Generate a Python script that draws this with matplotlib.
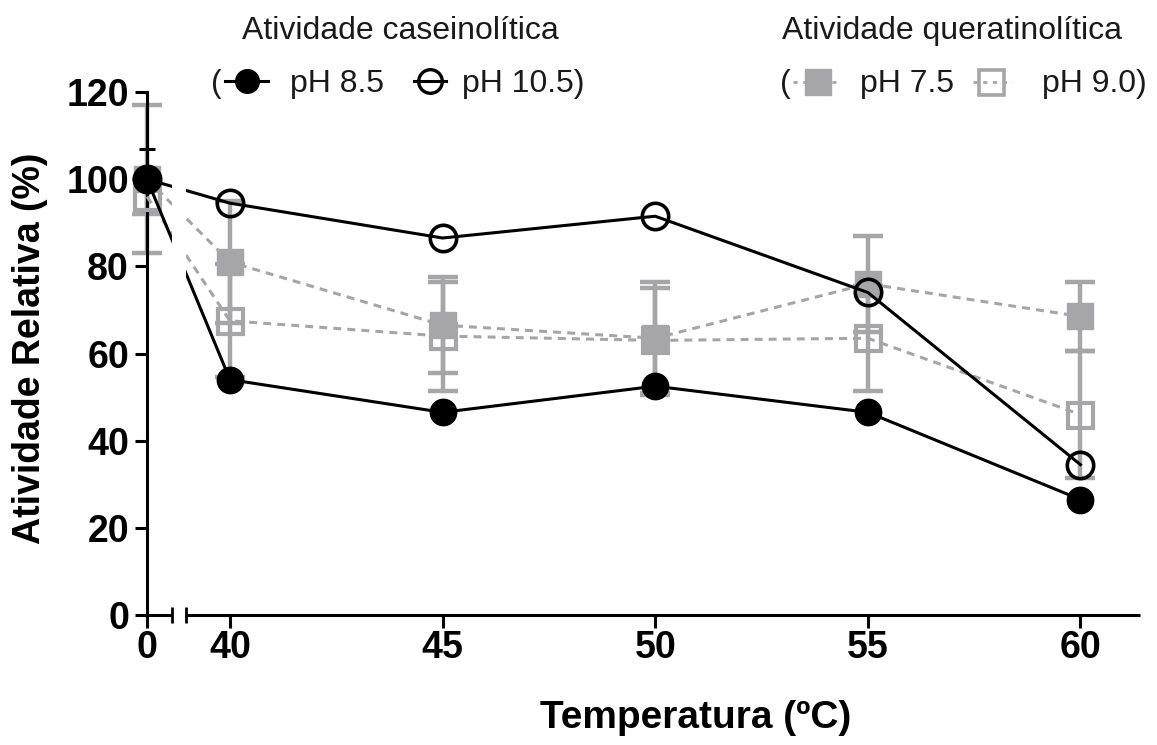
import numpy as np
import matplotlib.pyplot as plt
from matplotlib.lines import Line2D

plt.rcParams['font.family'] = ['Liberation Sans', 'DejaVu Sans']

# temperatures (ºC) and their tick labels
temps = [0, 40, 45, 50, 55, 60]
temp_labels = ['0', '40', '45', '50', '55', '60']

# caseinolytic activity (%)
cas_ph85 = [100, 54, 46.5, 52.5, 46.5, 26.5]
cas_ph85_err = [7, 1.5, 1.5, 1.5, 1.5, 1.5]
cas_ph105 = [100, 94.5, 86.5, 91.5, 74, 34.5]

# keratinolytic activity (%)
ker_ph75 = [100, 81, 66.5, 63.5, 76, 68.5]
ker_ph75_err = [17, 14, 11, 13, 11, 8]
ker_ph90 = [96, 67.5, 64, 63, 63.5, 46]
ker_ph90_err = [4, 13, 12.5, 12, 12, 14.5]

yticks = [0, 20, 40, 60, 80, 100, 120]

GREY = '#a6a6a9'
W, H = 1157, 745

# broken x axis: 0 sits just left of the break, 40-60 on a linear scale
ZERO_POS = 38.05
BREAK_L, BREAK_R = 38.64, 38.97
XMAX = 61.4


def xpos(t):
    t = np.asarray(t, dtype=float)
    return np.where(t == 0, ZERO_POS, t)


def fx(px):
    return px / W


def fy(py):
    return 1 - py / H


fig = plt.figure(figsize=(W / 100, H / 100), dpi=100)
ax = fig.add_axes([147 / W, 1 - 615 / H, (1140 - 147) / W, (615 - 92) / H])

x = xpos(temps)

# error bars
ax.errorbar(x, ker_ph75, yerr=ker_ph75_err, fmt='none', ecolor=GREY,
            elinewidth=3.2, capsize=11, capthick=3.2, zorder=2, clip_on=False)
ax.errorbar(x, ker_ph90, yerr=ker_ph90_err, fmt='none', ecolor=GREY,
            elinewidth=3.2, capsize=11, capthick=3.2, zorder=2, clip_on=False)
ax.errorbar(x, cas_ph85, yerr=cas_ph85_err, fmt='none', ecolor='black',
            elinewidth=2.2, capsize=6, capthick=2.2, zorder=3, clip_on=False)

# keratinolytic series
ax.plot(x, ker_ph75, color=GREY, ls=(0, (2.6, 2.0)), lw=2.2, marker='s', ms=19,
        mfc=GREY, mec=GREY, zorder=3, clip_on=False)
ax.plot(x, ker_ph90, color=GREY, ls=(0, (2.6, 2.0)), lw=2.2, marker='s', ms=18,
        mfc='none', mec=GREY, mew=3, zorder=3, clip_on=False)

# caseinolytic series
ax.plot(x, cas_ph85, color='black', lw=2.2, marker='o', ms=19,
        mfc='black', mec='black', zorder=3.5, clip_on=False)
ax.plot(x, cas_ph105, color='black', lw=2.2, marker='o', ms=19,
        mfc='none', mec='black', mew=2.6, zorder=3.5, clip_on=False)

# lines are interrupted at the axis break
ax.axvspan(BREAK_L, BREAK_R, color='white', zorder=4, lw=0)

ax.set_xlim(ZERO_POS, XMAX)
ax.set_ylim(0, 120)
ax.set_xticks(x)
ax.set_xticklabels(temp_labels)
ax.set_yticks(yticks)

for side in ['top', 'right', 'bottom']:
    ax.spines[side].set_visible(False)
ax.spines['left'].set_linewidth(2.2)
ax.spines['left'].set_bounds(0, 120)

# bottom axis drawn in two pieces around the break
trans = ax.get_xaxis_transform()
ax.plot([ZERO_POS, BREAK_L], [0, 0], transform=trans, color='black', lw=2.2,
        clip_on=False, solid_capstyle='butt', zorder=5)
ax.plot([BREAK_R, XMAX], [0, 0], transform=trans, color='black', lw=2.2,
        clip_on=False, solid_capstyle='butt', zorder=5)
ax.plot([BREAK_L, BREAK_R], [0, 0], transform=trans, ls='none', marker='|',
        ms=12, mew=2, color='black', clip_on=False, zorder=5)

ax.tick_params(axis='both', direction='out', length=9, width=2.2,
               labelsize=27, colors='black')
ax.tick_params(axis='x', pad=2)
ax.tick_params(axis='y', pad=4)
for lab in ax.get_xticklabels() + ax.get_yticklabels():
    lab.set_fontweight('bold')

ax.set_xlabel('Temperatura (ºC)', fontsize=28, fontweight='bold')
ax.xaxis.set_label_coords((696 - 147) / (1140 - 147), -(700 - 615) / (615 - 92))
ax.set_ylabel('Atividade Relativa (%)', fontsize=27, fontweight='bold')
ax.yaxis.set_label_coords(-(147 - 48) / (1140 - 147), 0.51)

# legends: two groups drawn at figure level
fs = 23
tc = '#1a1a1a'
fig.text(fx(242), fy(39), 'Atividade caseinolítica', fontsize=fs, va='baseline', color=tc)
fig.text(fx(211), fy(92), '(', fontsize=fs, va='baseline', color=tc)
fig.add_artist(Line2D([fx(225), fx(247), fx(268)], [fy(81)] * 3, transform=fig.transFigure,
                      color='black', lw=2.2, marker='o', ms=17, mfc='black',
                      markevery=[1]))
fig.text(fx(290), fy(92), 'pH 8.5', fontsize=fs, va='baseline', color=tc)
fig.add_artist(Line2D([fx(414), fx(430), fx(446)], [fy(81)] * 3, transform=fig.transFigure,
                      color='black', lw=2.2, marker='o', ms=17, mfc='none', mew=2.4,
                      markevery=[1]))
fig.text(fx(462), fy(92), 'pH 10.5)', fontsize=fs, va='baseline', color=tc)

fig.text(fx(782), fy(39), 'Atividade queratinolítica', fontsize=fs, va='baseline', color=tc)
fig.text(fx(780), fy(92), '(', fontsize=fs, va='baseline', color=tc)
fig.add_artist(Line2D([fx(793), fx(818), fx(840)], [fy(82)] * 3, transform=fig.transFigure,
                      color=GREY, lw=2, ls=(0, (1.5, 2)), marker='s', ms=19, mfc=GREY,
                      mec=GREY, markevery=[1]))
fig.text(fx(860), fy(92), 'pH 7.5', fontsize=fs, va='baseline', color=tc)
fig.add_artist(Line2D([fx(973), fx(991), fx(1012)], [fy(82)] * 3, transform=fig.transFigure,
                      color=GREY, lw=2, ls=(0, (1.5, 2)), marker='s', ms=18, mfc='none',
                      mec=GREY, mew=2.6, markevery=[1]))
fig.text(fx(1042), fy(92), 'pH 9.0)', fontsize=fs, va='baseline', color=tc)

fig.savefig('out.png', dpi=100)
